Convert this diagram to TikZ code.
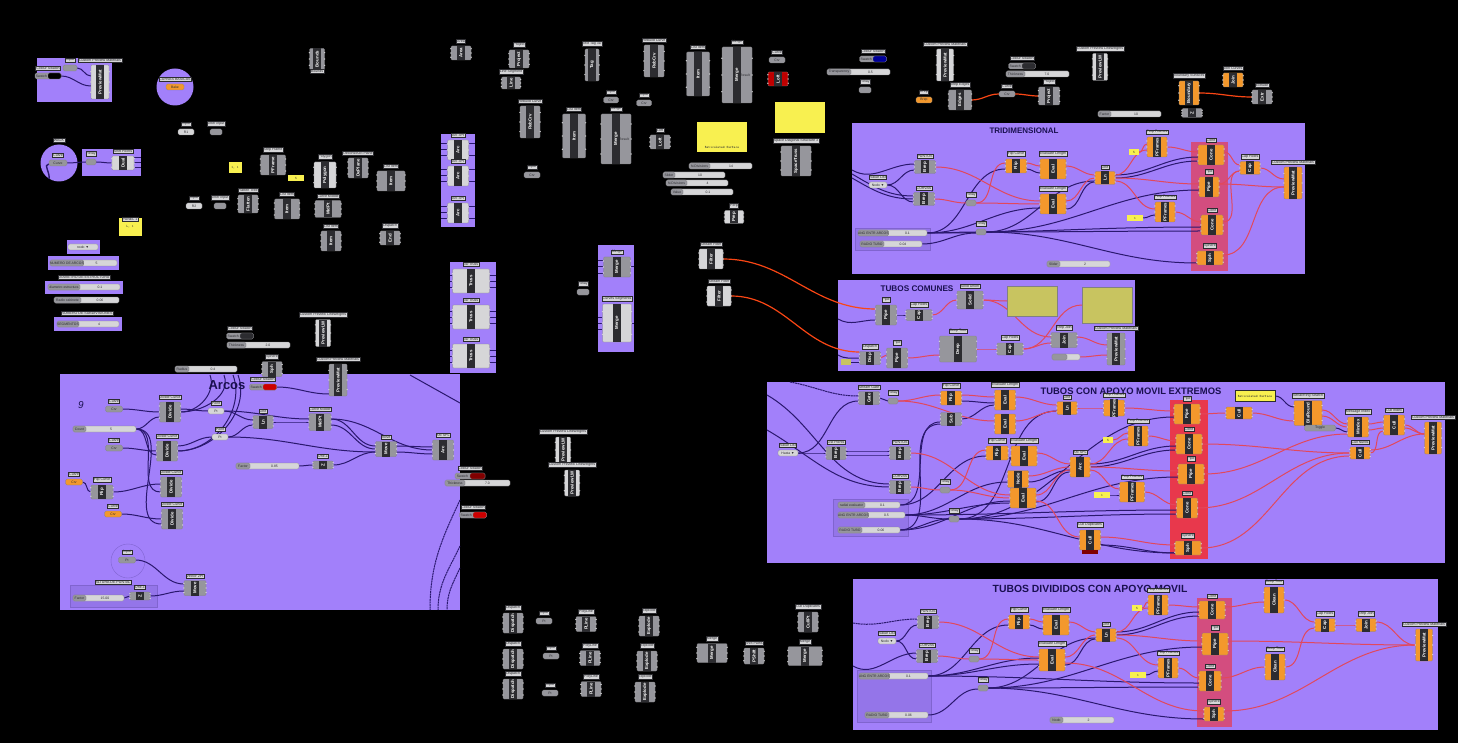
\documentclass[tikz,border=0pt]{standalone}
\usepackage{fontspec}
\setmainfont{Liberation Sans}
\pgfdeclarelayer{back}
\pgfdeclarelayer{wire}
\pgfsetlayers{back,wire,main}
\definecolor{ghpurple}{RGB}{162,128,250}
\definecolor{ghgray}{RGB}{150,150,156}
\definecolor{ghdark}{RGB}{44,44,48}
\definecolor{ghlight}{RGB}{214,214,216}
\definecolor{ghorange}{RGB}{243,152,44}
\definecolor{ghyellow}{RGB}{248,240,80}
\definecolor{gholive}{RGB}{200,196,96}
\definecolor{ghred}{RGB}{232,56,76}
\definecolor{wirered}{RGB}{226,72,92}
\definecolor{wirepurple}{RGB}{42,24,110}
\definecolor{wirehot}{RGB}{250,70,20}
\definecolor{ghnavy}{RGB}{26,16,80}
\tikzset{
  compbox/.style={rectangle,rounded corners=1pt,draw=ghdark!60,line width=.3pt,fill=ghgray,inner sep=0pt},
  orangec/.style={fill=ghorange},
  lightc/.style={fill=ghlight},
  redc/.style={fill=red!75!black},
  stripbox/.style={rectangle,fill=ghdark,inner sep=0pt,minimum height=8pt,text=white,font=\fontsize{4.4}{5}\selectfont\bfseries},
  tagbox/.style={rectangle,fill=ghlight,draw=ghdark,line width=.2pt,inner sep=.7pt,text=ghdark,font=\fontsize{3.6}{4}\selectfont},
  portdot/.style={fill=ghlight},
  pillbox/.style={rectangle,rounded corners=1.5pt,draw=ghdark!60,line width=.3pt,fill=ghlight,inner sep=0pt,minimum height=6pt,text=ghdark,font=\fontsize{3.4}{4}\selectfont},
  darkp/.style={fill=ghgray},
  orangep/.style={fill=ghorange},
  notebox/.style={rectangle,fill=ghyellow,inner sep=0pt,text=ghdark,font=\fontsize{3.4}{4}\selectfont\ttfamily},
  headbox/.style={text=ghnavy,inner sep=0pt,font=\fontsize{#1}{11}\selectfont\bfseries},
  faintbox/.style={fill=ghnavy!10!ghpurple,draw=ghnavy!25!ghpurple,line width=.4pt},
  wp/.style={wirepurple,line width=1pt},
  wr/.style={wirered,line width=1pt},
  wo/.style={wirehot,line width=1.2pt},
  wd/.style={wirepurple,line width=1pt,dash pattern=on 2pt off .6pt}
}
\newcommand{\ghcomp}[8][]{%
  \node[compbox,#1,minimum width=#5pt,minimum height=#6pt] (#2) at (#3,#4) {};
  \node[stripbox,rotate=90,minimum width=#6pt] (#2s) at (#2.center) {#7};
  \foreach \s in {-0.3,0,0.3}{
    \fill[portdot] ([yshift=\s*#6 pt]#2.west) circle (.7pt);
    \fill[portdot] ([yshift=\s*#6 pt]#2.east) circle (.7pt);}
  \if\relax\detokenize{#8}\relax\else
    \node[tagbox,anchor=south,yshift=2.5pt] (#2t) at (#2.north) {#8};\fi}
\newcommand{\ghparam}[7][]{%
  \node[pillbox,#1,minimum width=#5pt] (#2) at (#3,#4) {#6};
  \if\relax\detokenize{#7}\relax\else
    \node[tagbox,anchor=south,yshift=2.5pt] (#2t) at (#2.north) {#7};\fi}
\newcommand{\ghswatch}[6]{%
  \node[pillbox,darkp,minimum width=#4pt] (#1) at (#2,#3) {};
  \node[pillbox,fill=#5,minimum width=#4pt/2] (#1c) at ([xshift=#4pt/4]#1.center) {};
  \node[inner sep=0pt,text=ghdark,font=\fontsize{3.4}{4}\selectfont] (#1l) at ([xshift=-#4pt/4]#1.center) {Swatch};
  \node[tagbox,anchor=south,yshift=2.5pt] (#1t) at (#1.north) {#6};}
\newcommand{\ghslider}[7]{%
  \node[pillbox,minimum width={(#3-#2)*1pt}] (#1) at ({(#2+#3)/2},#4) {};
  \node[pillbox,darkp,anchor=west,minimum width=#5pt] (#1l) at (#1.west) {#6};
  \node[text=ghdark,inner sep=0pt,font=\fontsize{3.4}{4}\selectfont] (#1v) at ([xshift=#5pt/2]#1.center) {#7};}
\begin{document}
\begin{tikzpicture}[x=1pt,y=-1pt]
  \useasboundingbox (0,0) rectangle (1458,743);
  \begin{pgfonlayer}{back}
    \fill[black] (0,0) rectangle (1458,743);
    \foreach \xa/\ya/\xb/\yb in {37/58/112/102,82/149/141/176,67/240/100/254,48/256/119/270,45/281/123/294,54/317/122/331,
      441/134/475/227,450/262/496/373,598/245/634/352,60/374/460/610,852/123/1305/274,838/280/1135/371,767/382/1445/563,853/579/1438/730}
      \fill[ghpurple] (\xa,\ya) rectangle (\xb,\yb);
    \foreach \cx/\cy in {175/87,59/163}
      \fill[ghpurple] (\cx,\cy) circle (18.5);
    \foreach \xa/\ya/\xb/\yb in {1191/142/1228/271,1197/598/1232/727}
      \fill[ghred,opacity=.7] (\xa,\ya) rectangle (\xb,\yb);
    \fill[ghred] (1170,400) rectangle (1208,559);
    \foreach \xa/\ya/\xb/\yb in {855/228/930/250,833/499/908/536,857/670/931/722,70/585/157/607}
      \filldraw[faintbox] (\xa,\ya) rectangle (\xb,\yb);
    \draw[ghnavy!25!ghpurple,line width=.4pt] (128,561) circle (17);
  \end{pgfonlayer}

  \ghswatch{hsw}{48}{76}{26}{black}{Colour Swatch}
  \ghcomp[lightc]{hpm}{100}{82}{18}{34}{PreviewMat}{Custom Preview Materials}
  \ghparam[darkp]{hin}{70}{68}{14}{}{Input}
  \ghparam[orangep]{htog}{175}{87}{18}{Bake}{CURVAS BASICAS}
  \ghparam[darkp]{wcur}{58}{163}{18}{Curve}{Curve}
  \node[tagbox] (wwalk) at (59,140) {WALK};
  \ghparam[darkp]{wrel}{91}{162}{10}{}{Relay}
  \ghcomp[lightc]{wdua}{123}{163}{22}{14}{Dual}{Shift Points}
  \node[notebox,minimum width=23pt,minimum height=18pt] (npan) at (130,227) {L, 1};
  \node[tagbox] (npant) at (130,219) {PANEL 1};
  \ghparam{vnod}{83}{247}{30}{nodo ▼}{}
  \ghslider{snum}{50}{117}{263}{26}{NUMERO DE ARCOS}{5}
  \node[tagbox] (sdiat) at (84,277) {DIAMETRO DE ESTRUCTURA};
  \ghslider{sdia}{48}{120}{287}{32}{diametro estructura}{0.1}
  \ghslider{srad}{54}{119}{300}{27}{Radio cabinete}{0.06}
  \node[tagbox] (ssubt) at (87,313) {NUMERO DE SUBDIVISIONES};
  \ghslider{ssub}{57}{119}{324}{22}{SEGMENTOS}{4}

  \ghcomp{cbou}{317}{59}{15}{21}{Bounds}{}
  \node[tagbox] (cbout) at (317,71) {Bounds};
  \ghparam{cin1}{186}{132}{16}{R1}{Input}
  \ghparam[darkp]{cin2}{216}{132}{12}{}{Jitter input}
  \ghparam{cin3}{194}{206}{16}{R2}{Input}
  \ghparam[darkp]{cin4}{220}{206}{12}{}{Jitter input}
  \node[notebox,minimum width=13pt,minimum height=11pt] (cyel) at (235,168) {1, 1};
  \ghcomp{cfra}{273}{165}{25}{20}{PFrame}{Step Frame}
  \node[notebox,minimum width=16pt,minimum height=6pt] (cye2) at (296,178) {5};
  \ghcomp{cfla}{248}{204}{20}{18}{Flatten}{Flatten Tree}
  \ghcomp{clis}{287}{209}{25}{20}{Item}{List Item}
  \ghcomp[lightc]{cpol}{325}{175}{22}{26}{Polygon}{Polygon}
  \ghcomp{cmid}{328}{209}{26}{17}{MidPt}{Curve Middle}
  \ghcomp{cdec}{358}{168}{20}{20}{DePlane}{Deconstruct Plane}
  \ghcomp{cli2}{391}{181}{28}{20}{Item}{List Item}
  \ghcomp{cli3}{331}{241}{20}{20}{Item}{List Item}
  \ghcomp{cend}{390}{238}{20}{14}{End}{Dispatch}

  \ghswatch{lsw}{240}{336}{27}{ghdark}{Colour Swatch}
  \ghslider{lthi}{227}{290}{345}{19}{Thickness}{2.0}
  \ghcomp[lightc]{lpm}{323}{333}{15}{27}{PreviewLW}{Custom Preview Lineweights}
  \ghslider{lrad}{175}{237}{369}{14}{Radius}{0.4}
  \ghcomp{lsph}{272}{369}{20}{15}{Sph}{Sphere}
  \ghcomp{apm}{338}{380}{18}{32}{PreviewMat}{Custom Preview Materials}

  \ghcomp{ita}{461}{53}{20}{14}{Area}{Area}
  \ghcomp{ipr}{519}{59}{20}{18}{Project}{Project}
  \ghcomp{ili}{511}{83}{19}{12}{Line}{Line Segment}
  \ghcomp{irb1}{530}{122}{20}{32}{RebCrv}{Rebuild Curve}
  \ghparam[darkp]{iin}{532}{175}{16}{Crv}{Input}
  \ghcomp{itag}{592}{65}{14}{32}{Tag}{Text Tag 3D}
  \ghcomp{irb2}{654}{61}{20}{32}{RebCrv}{Rebuild Curve}
  \ghparam[darkp]{iin2}{611}{100}{15}{Crv}{Input}
  \ghparam[darkp]{iin3}{644}{103}{15}{Crv}{Input}
  \ghcomp{ili1}{574}{136}{23}{44}{Item}{List Item}
  \ghcomp{ime1}{616}{139}{30}{50}{Merge}{Merge}
  \ghcomp{ili2}{698}{74}{23}{44}{Item}{List Item}
  \ghcomp{ime2}{737}{75}{30}{56}{Merge}{Merge}
  \node[text=ghdark,inner sep=0pt,font=\fontsize{3.4}{4}\selectfont] (ime1r) at (624,139) {Result};
  \node[text=ghdark,inner sep=0pt,font=\fontsize{3.4}{4}\selectfont] (ime2r) at (745,75) {Result};
  \ghparam[darkp]{icur}{777}{60}{16}{Crv}{Curve}
  \ghcomp[redc]{ilof}{778}{79}{20}{14}{Loft}{}
  \ghcomp{ilin}{660}{142}{20}{14}{Loft}{Loft}
  \node[notebox,minimum width=50pt,minimum height=30pt,text height=24pt,align=left] (ino1) at (722,137) {Reticulated Surface};
  \node[notebox,minimum width=50pt,minimum height=31pt] (ino2) at (800,118) {};
  \ghslider{is1}{689}{752}{166}{21}{N.Divisions}{14}
  \ghslider{is2}{663}{725}{175}{12}{Slider}{10}
  \ghslider{is3}{666}{728}{183}{21}{N.Divisions}{4}
  \ghslider{is4}{671}{733}{192}{12}{Value}{0.1}
  \ghcomp{ispa}{796}{161}{30}{30}{SpaceTruss}{Space Diagonal Structure 3}
  \ghcomp[lightc]{ipre}{734}{217}{19}{13}{Prep}{Perp}
  \ghcomp[lightc]{ist1}{711}{259}{24}{20}{Filter}{Stream Filter}
  \ghcomp[lightc]{ist2}{719}{296}{24}{20}{Filter}{Stream Filter}

  \foreach \i/\cy in {1/150,2/176,3/213}
    {\ghcomp[lightc]{iarc\i}{458}{\cy}{21}{20}{Arc}{Arc 3Pt}
     \coordinate (ial\i) at (441,\cy);
     \coordinate (iar\i) at (475,\cy);}
  \foreach \i/\cy in {1/281,2/317,3/356}
    {\ghcomp[lightc]{itru\i}{471}{\cy}{37}{24}{Truss}{3D Truss}
     \coordinate (itl\i) at (450,\cy);
     \coordinate (itr\i) at (496,\cy);}
  \ghcomp{imer}{617}{267}{27}{20}{Merge}{Merge}
  \ghcomp[lightc]{imeb}{617}{323}{29}{38}{Merge}{Curves Segments}
  \coordinate (iml1) at (598,267);
  \coordinate (iml2) at (598,323);
  \coordinate (imr1) at (634,267);
  \coordinate (imr2) at (634,323);
  \ghparam[darkp]{irel}{583}{292}{12}{}{Relay}

  \node[anchor=center,inner sep=0pt,text=ghnavy,font=\fontsize{13}{14}\selectfont\bfseries] (aarcs) at (227,385) {Arcos};
  \node[inner sep=0pt,text=ghnavy,font=\fontsize{10}{11}\selectfont\itshape] (anin) at (81,405) {9};
  \ghparam[darkp]{acr1}{114}{409}{17}{Crv}{Curve}
  \ghcomp{adv1}{170}{412}{21}{20}{Divide}{Divide Curve}
  \ghslider{acnt}{73}{136}{429}{13}{Count}{5}
  \ghparam[darkp]{acr2}{114}{448}{17}{Crv}{Curve}
  \ghcomp{adv2}{167}{451}{21}{20}{Divide}{Divide Curve}
  \ghparam[orangep]{aor1}{74}{482}{17}{Crv}{Curve}
  \ghcomp{afli}{102}{492}{22}{14}{Flip}{Flip Curve}
  \ghcomp{adv3}{171}{487}{21}{20}{Divide}{Divide Curve}
  \ghparam[orangep]{aor2}{113}{514}{17}{Crv}{Curve}
  \ghcomp{adv4}{172}{519}{21}{20}{Divide}{Divide Curve}
  \ghparam{ain1}{216}{411}{16}{Pt}{Point}
  \ghparam{ain2}{220}{437}{16}{Pt}{Point}
  \ghcomp{alin}{263}{422}{20}{13}{Ln}{Line}
  \ghcomp{amid}{320}{422}{22}{17}{MidPt}{Curve Middle}
  \ghcomp{amer}{386}{449}{21}{15}{Move}{Move}
  \ghcomp{aarc}{443}{450}{21}{20}{Arc}{Arc SPL}
  \ghslider{afac}{236}{299}{466}{14}{Factor}{0.85}
  \ghcomp{auni}{323}{465}{20}{8}{Z}{Unit Z}
  \ghparam[darkp]{ainp}{127}{560}{17}{Pt}{Input}
  \ghslider{afa2}{73}{124}{598}{13}{Factor}{15.00}
  \node[tagbox] (aalt) at (113,582) {ALTURA DE PUNTAL};
  \ghcomp{aun2}{140}{596}{20}{8}{Z}{Unit Z}
  \ghcomp{avec}{195}{588}{22}{15}{Move}{Vector 2Pt}
  \ghswatch{asw}{263}{387}{27}{red!80!black}{Colour Swatch}
  \ghswatch{asw2}{470}{476}{30}{red!50!black}{Colour Swatch}
  \ghslider{ath2}{445}{510}{483}{20}{Thickness}{7.0}
  \ghswatch{asw3}{473}{515}{27}{red!80!black}{Colour Swatch}
  \ghcomp[lightc]{mpm1}{563}{450}{15}{26}{PreviewLW}{Custom Preview Lineweights}
  \ghcomp[lightc]{mpm2}{572}{483}{15}{26}{PreviewLW}{Custom Preview Lineweights}

  \foreach \i/\cy/\ttl in {1/623/Dispatch,2/659/Dispatch,3/689/Dispatch}
    {\ghcomp{bdi\i}{513}{\cy}{20}{20}{Dispatch}{\ttl}}
  \foreach \i/\cx/\cy in {1/544/621,2/551/656,3/550/693}
    {\ghparam[darkp]{bin\i}{\cx}{\cy}{16}{Pt}{Input}}
  \foreach \i/\cx/\cy in {1/586/624,2/590/658,3/591/689}
    {\ghcomp{bpl\i}{\cx}{\cy}{20}{15}{PLine}{PolyLine}}
  \foreach \i/\cx/\cy in {1/649/626,2/647/661,3/645/692}
    {\ghcomp{bex\i}{\cx}{\cy}{20}{20}{Explode}{Explode}}
  \ghcomp{bme1}{712}{653}{30}{19}{Merge}{Merge}
  \ghcomp{bshi}{754}{656}{20}{16}{PShift}{Shift Paths}
  \ghcomp{bcul}{808}{622}{20}{20}{CullPt}{Cull Duplicates}
  \ghcomp{bme2}{805}{656}{34}{19}{Merge}{Merge}

  \ghswatch{fswa}{873}{59}{27}{blue!60!black}{Colour Swatch}
  \ghslider{ftra}{827}{890}{72}{24}{Transparency}{0.5}
  \ghparam[darkp]{frel}{865}{90}{12}{}{Relay}
  \ghcomp[lightc]{fpm}{945}{65}{17}{32}{PreviewMat}{Custom Preview Materials}
  \ghparam[orangep]{fbak}{924}{100}{16}{Brep}{Brep}
  \ghcomp{fedg}{960}{100}{23}{20}{Edges}{Brep Edges}
  \ghparam[darkp]{fcur}{1007}{94}{16}{Crv}{Curve}
  \ghcomp{fpro}{1049}{96}{21}{18}{Project}{Project}
  \ghswatch{fsw2}{1022}{66}{27}{ghdark}{Colour Swatch}
  \ghslider{fth2}{1006}{1069}{74}{19}{Thickness}{7.0}
  \ghcomp[lightc]{fpl}{1100}{67}{15}{27}{PreviewLW}{Custom Preview Lineweights}
  \ghcomp[orangec]{fbou}{1189}{93}{20}{24}{Boundary}{Boundary Surfaces}
  \ghcomp[orangec]{fjoi}{1233}{80}{20}{14}{Join}{Join Curves}
  \ghcomp{fext}{1262}{97}{20}{14}{Extr}{Extrude}
  \ghcomp{fzz}{1192}{113}{20}{9}{Z}{}
  \ghslider{fsld}{1098}{1161}{114}{13}{Factor}{10}

  \node[headbox=8] (thead) at (1024,131) {TRIDIMENSIONAL};
  \ghcomp{tpun}{925}{167}{21}{13}{Brep}{PUNTOS}
  \ghcomp{tcur}{924}{199}{21}{13}{Brep}{CURVAS}
  \ghparam{tval}{878}{185}{18}{Nodo ▼}{Value List}
  \ghparam[darkp]{trel}{971}{203}{10}{}{Relay}
  \ghcomp[orangec]{tfli}{1016}{166}{21}{14}{Flip}{Flip Curve}
  \ghcomp[orangec]{tev1}{1053}{169}{26}{20}{Eval}{Evaluate Length}
  \ghcomp[orangec]{tev2}{1053}{204}{26}{20}{Eval}{Evaluate Length}
  \ghcomp[orangec]{tlin}{1105}{178}{20}{13}{Ln}{Line}
  \ghcomp[orangec]{tpe1}{1157}{147}{20}{20}{PFrames}{Perp Frames}
  \node[notebox,minimum width=10pt,minimum height=6pt] (tye1) at (1134,152) {5};
  \ghcomp[orangec]{tcn1}{1211}{155}{26}{20}{Cone}{Cone}
  \ghcomp[orangec]{tpip}{1209}{187}{20}{20}{Pipe}{Pipe}
  \ghcomp[orangec]{tcn2}{1212}{225}{22}{20}{Cone}{Cone}
  \ghcomp[orangec]{tsph}{1210}{258}{26}{14}{Sph}{Sphere}
  \ghcomp[orangec]{tpe2}{1165}{212}{20}{20}{PFrames}{Perp Frames}
  \node[notebox,minimum width=16pt,minimum height=6pt] (tye2) at (1135,218) {1};
  \ghcomp[orangec]{tcap}{1250}{168}{20}{13}{Cap}{Cap Holes}
  \ghcomp[orangec]{tpm}{1293}{183}{18}{32}{PreviewMat}{Custom Preview Materials}
  \ghparam[darkp]{tre2}{981}{232}{10}{}{Relay}
  \ghslider{tang}{858}{927}{233}{30}{ANG ENTR ARCOS}{0.1}
  \ghslider{trad}{860}{922}{244}{24}{RADIO TUBO}{0.04}
  \ghslider{tsld}{1047}{1110}{264}{13}{Slider}{2}
  \coordinate (tin1) at (852,170);
  \coordinate (tin2) at (852,174);
  \coordinate (tin3) at (852,178);

  \node[headbox=8.2] (chead) at (917,289) {TUBOS COMUNES};
  \ghcomp{cpi1}{886}{315}{21}{20}{Pipe}{Pipe}
  \ghcomp{cca1}{919}{315}{26}{11}{Cap}{Cap Holes}
  \ghcomp{cste}{970}{300}{26}{18}{Solid}{Solid Union}
  \node[notebox,fill=gholive,draw=ghdark!60,line width=.2pt,minimum width=50pt,minimum height=30pt] (col1) at (1032,301) {};
  \node[notebox,fill=gholive,draw=ghdark!60,line width=.2pt,minimum width=50pt,minimum height=36pt] (col2) at (1107,305) {};
  \ghcomp{cdis}{870}{358}{21}{13}{Disp}{Dispatch}
  \ghcomp{cpi2}{897}{358}{21}{20}{Pipe}{Pipe}
  \ghcomp{cdee}{958}{349}{37}{26}{Deep}{Deep Tree}
  \ghcomp{cca2}{1010}{349}{26}{12}{Cap}{Cap Holes}
  \ghcomp{cbre}{1064}{340}{26}{15}{Join}{Brep Join}
  \ghslider{csld}{1052}{1080}{357}{15}{}{}
  \ghcomp{cpm}{1116}{349}{18}{32}{PreviewMat}{Custom Preview Materials}
  \node[notebox,fill=gholive,minimum width=10pt,minimum height=6pt] (cye) at (846,362) {};
  \coordinate (cin2) at (838,319);
  \coordinate (cin3) at (838,355);

  \node[headbox=9.4] (ehead) at (1131,391) {TUBOS CON APOYO MOVIL EXTREMOS};
  \ghcomp{egat}{869}{398}{21}{13}{Gate}{Stream Gate}
  \ghparam[darkp]{erel}{893}{401}{10}{}{Relay}
  \ghcomp[orangec]{efl1}{951}{398}{21}{14}{Flip}{Flip Curve}
  \ghcomp{esub}{951}{419}{21}{13}{Sub}{}
  \ghcomp[orangec]{eev1}{1005}{400}{21}{20}{Eval}{Evaluate Length}
  \ghcomp[orangec]{eev2}{1005}{424}{21}{20}{Eval}{}
  \ghcomp[orangec]{eli1}{1067}{408}{20}{13}{Ln}{Line}
  \ghcomp[orangec]{epe0}{1114}{408}{21}{16}{PFrames}{Perp Frames}
  \ghcomp{elis}{836}{453}{20}{13}{Brep}{List Points}
  \ghparam{eval}{788}{453}{20}{Hasta ▼}{Value List}
  \ghcomp{epun}{900}{453}{21}{13}{Brep}{PUNTOS}
  \ghcomp{ecur}{900}{487}{21}{13}{Brep}{CURVAS}
  \ghparam[darkp]{ere1}{945}{490}{10}{}{Relay}
  \ghcomp[orangec]{efl2}{997}{453}{22}{14}{Flip}{Flip Curve}
  \ghcomp[orangec]{eev3}{1024}{456}{26}{20}{Eval}{Evaluate Length}
  \ghcomp[orangec]{enod}{1018}{479}{21}{17}{Node}{}
  \ghcomp[orangec]{eev4}{1023}{498}{26}{20}{Eval}{}
  \ghcomp[orangec]{earc}{1080}{467}{20}{20}{Arc}{Arc SPL}
  \ghcomp[orangec]{epe1}{1138}{436}{20}{20}{PFrames}{Perp Frames}
  \node[notebox,minimum width=10pt,minimum height=6pt] (eye1) at (1108,440) {5};
  \ghcomp[orangec]{epe2}{1132}{492}{25}{20}{PFrames}{Perp Frames}
  \node[notebox,minimum width=16pt,minimum height=6pt] (eye2) at (1102,495) {1};
  \ghcomp[orangec]{ecul}{1090}{540}{21}{20}{Cull}{Cull Duplicates}
  \node[rectangle,fill=red!50!black,inner sep=0pt,minimum width=16pt,minimum height=4pt] (ecub) at (1090,552) {};
  \ghparam[darkp]{ere2}{954}{519}{10}{}{Relay}
  \ghslider{esl1}{838}{900}{505}{27}{radial evaluator}{0.1}
  \ghslider{esl2}{838}{905}{515}{30}{ANG ENTR ARCOS}{0.5}
  \ghslider{esl3}{838}{900}{530}{24}{RADIO TUBO}{0.06}
  \ghcomp[orangec]{epi1}{1187}{414}{26}{20}{Pipe}{Pipe}
  \ghcomp[orangec]{ecn1}{1189}{444}{26}{20}{Cone}{Cone}
  \ghcomp[orangec]{epi2}{1191}{474}{26}{20}{Pipe}{Pipe}
  \ghcomp[orangec]{ecn2}{1187}{508}{21}{20}{Cone}{Cone}
  \ghcomp[orangec]{esph}{1188}{548}{26}{14}{Sph}{Sphere}
  \ghcomp[orangec]{ecu1}{1239}{413}{26}{12}{Cull}{}
  \node[notebox,draw=ghdark,line width=.2pt,minimum width=40pt,minimum height=11pt] (eno) at (1255,396) {Reticulated Surface};
  \ghcomp[orangec]{eblo}{1308}{413}{28}{25}{BlaRound}{Serial/Ring Search}
  \node[pillbox,darkp,minimum width=31pt] (etog) at (1320,428) {Toggle};
  \ghcomp[orangec]{emes}{1358}{427}{21}{20}{Mindex}{Message Index}
  \ghcomp[orangec]{ecu2}{1394}{425}{21}{20}{Cull}{Cull Index}
  \ghcomp[orangec]{ecu3}{1360}{453}{20}{12}{Cull}{Cull Nurbs}
  \ghcomp[orangec]{epm}{1433}{438}{17}{32}{PreviewMat}{Custom Preview Materials}
  \coordinate (ein1) at (790,382);
  \coordinate (ein2) at (767,395);
  \coordinate (ein3) at (767,430);

  \node[headbox=10.4] (dhead) at (1090,589) {TUBOS DIVIDIDOS CON APOYO MOVIL};
  \ghcomp{dpun}{928}{622}{21}{13}{Brep}{PUNTOS}
  \ghcomp{dcur}{927}{656}{21}{13}{Brep}{CURVAS}
  \ghparam{dval}{887}{641}{18}{Nodo ▼}{Value List}
  \ghparam[darkp]{drel}{974}{659}{10}{}{Relay}
  \ghcomp[orangec]{dfli}{1019}{622}{21}{14}{Flip}{Flip Curve}
  \ghcomp[orangec]{dev1}{1056}{625}{26}{20}{Eval}{Evaluate Length}
  \ghcomp[orangec]{dev2}{1052}{660}{26}{22}{Eval}{Evaluate Length}
  \ghcomp[orangec]{dlin}{1106}{635}{20}{13}{Ln}{Line}
  \ghcomp[orangec]{dpe1}{1158}{605}{20}{20}{PFrames}{Perp Frames}
  \node[notebox,minimum width=10pt,minimum height=6pt] (dye1) at (1137,608) {5};
  \ghcomp[orangec]{dcn1}{1212}{610}{26}{18}{Cone}{Cone}
  \ghcomp[orangec]{dpip}{1215}{644}{26}{22}{Pipe}{Pipe}
  \ghcomp[orangec]{dcn2}{1210}{681}{22}{20}{Cone}{Cone}
  \ghcomp[orangec]{dsph}{1214}{714}{20}{14}{Sph}{Sphere}
  \ghcomp[orangec]{dpe2}{1168}{668}{20}{20}{PFrames}{Perp Frames}
  \node[notebox,minimum width=16pt,minimum height=6pt] (dye2) at (1138,675) {1};
  \ghparam[darkp]{dre2}{983}{688}{10}{}{Relay}
  \ghcomp[orangec]{ddt1}{1274}{600}{20}{26}{Clean}{Deep Tree}
  \ghcomp[orangec]{ddt2}{1275}{667}{20}{26}{Clean}{Deep Tree}
  \ghcomp[orangec]{dcap}{1325}{625}{20}{13}{Cap}{Cap Holes}
  \ghcomp[orangec]{djoi}{1366}{625}{20}{13}{Join}{Brep Join}
  \ghcomp[orangec]{dpm}{1424}{645}{17}{32}{PreviewMat}{Custom Preview Materials}
  \ghslider{dang}{859}{928}{676}{30}{ANG ENTR ARCOS}{0.1}
  \ghslider{drad}{865}{928}{715}{24}{RADIO TUBO}{0.06}
  \ghslider{dsld}{1050}{1114}{720}{13}{Nodo}{2}
  \coordinate (din1) at (853,623);
  \coordinate (din2) at (853,666);

  \coordinate (wbot) at (49,179);
  \coordinate (wed1) at (141,158);
  \coordinate (wed2) at (141,163);
  \coordinate (wed3) at (141,168);
  \coordinate (at1) at (224,375);
  \coordinate (at2) at (233,375);
  \coordinate (at3) at (238,375);
  \coordinate (at4) at (210,375);
  \coordinate (ab1) at (430,610);
  \coordinate (ab2) at (438,610);
  \coordinate (ab3) at (447,610);
  \coordinate (ar1) at (460,500);
  \coordinate (ar2) at (460,546);
  \coordinate (ar3) at (460,568);
  \coordinate (atr1) at (410,375);
  \coordinate (atr2) at (460,403);

  \begin{pgfonlayer}{wire}
    \foreach \a/\b/\sa/\sb in {
      wcur/wrel/0/0,wrel/wdua/0/0,hin/hpm/0/6,hsw/hpm/0/-4,
      acr1/adv1/0/0,acnt/adv1/0/-5,acnt/adv2/0/-4,acnt/adv3/0/-5,acnt/adv4/0/-5,acr2/adv2/0/0,aor1/afli/0/0,afli/adv3/0/3,aor2/adv4/0/0,
      adv1/ain1/3/0,adv2/ain2/5/0,ain1/alin/0/2,ain2/alin/0/-3,ain1/amid/0/3,alin/amid/0/0,amid/amer/3/3,amid/amer/-3/0,ain2/amer/0/-3,
      afac/auni/0/0,auni/amer/0/-3,amer/aarc/3/3,amer/aarc/-3/-4,amid/aarc/3/0,ainp/avec/0/4,afa2/aun2/0/0,aun2/avec/0/-3,asw/apm/0/-14,
      tval/tpun/0/-3,tval/tcur/0/-3,tfli/tev1/-3/-4,tev2/tlin/-5/-4,tre2/tlin/0/-3,tre2/tpip/0/-3,tre2/tcn2/0/-6,tre2/tsph/0/-5,
      tlin/tcn1/3/-2,tlin/tcn1/0/-6,tang/tfli/0/-3,tang/tev2/0/-4,tang/tre2/0/0,tang/tcn2/0/-2,trad/tre2/0/-1,tye2/tpe2/0/-3,
      cpi1/cca1/0/0,
      egat/erel/0/0,eval/egat/0/-3,eval/elis/0/0,elis/epun/2/2,elis/epun/-2/-2,efl1/eev1/-3/-3,esub/eev1/0/-5,esl1/esub/0/-3,esl3/esub/0/-5,
      efl2/eev3/-4/-3,enod/earc/-3/-3,eev4/earc/-4/-5,ere2/eli1/0/-3,esl2/ere2/0/0,esl3/ere2/0/0,esl2/enod/0/-3,esl2/eev4/0/-5,esl3/eev4/0/-3,
      esl1/efl2/0/-3,ere2/epi2/0/-3,ere2/ecn2/0/-6,ere2/esph/0/-5,esl2/ecn2/0/-2,earc/ecn1/3/-2,earc/ecn1/0/-6,
      ere2/epi1/0/-3,ecul/esph/-5/-5,eno/eblo/0/6,etog/emes/0/-5,eye2/epe2/0/-3,
      dval/dpun/0/-3,dval/dcur/0/-3,dfli/dev1/-3/-4,dev2/dlin/-5/-4,dre2/dlin/0/-3,dre2/dpip/0/-3,dre2/dcn2/0/-6,dre2/dsph/0/-5,
      dlin/dcn1/3/-2,dlin/dcn1/0/-6,dang/dfli/0/-3,dang/dev2/0/-4,dang/dcn2/0/-2,dang/dev2/0/2,drad/dre2/0/-1,dye2/dpe2/0/-3}
      \draw[wp] ([yshift=\sa pt]\a.east) to[out=0,in=180] ([yshift=\sb pt]\b.west);
    \foreach \a/\b/\sa/\sb in {
      tcur/trel/0/0,trel/tfli/0/3,trel/tev2/0/0,tpun/tev2/0/3,tfli/tev1/3/3,tev1/tlin/3/3,tev2/tlin/3/0,tlin/tpe1/3/-3,tlin/tpip/0/3,tlin/tpe2/-3/3,
      tye1/tpe1/0/3,tpe1/tcn1/0/3,tpe2/tcn2/0/3,tcn1/tcap/3/3,tpip/tcap/3/-3,tcn2/tcap/3/-3,tpip/tpm/3/-4,tsph/tpm/3/-4,tcap/tpm/0/4,
      ecur/ere1/0/0,ere1/efl2/0/3,ere1/eev4/0/0,epun/eev4/0/3,erel/efl1/0/3,erel/eev2/0/3,efl1/eev1/3/3,eev1/eli1/3/3,eev2/eli1/3/-3,eli1/epe0/0/0,
      eev3/earc/3/3,enod/earc/3/0,eev4/earc/3/-3,earc/epe1/3/-3,earc/epi2/0/3,earc/epe2/-3/3,eye1/epe1/0/3,epe0/epi1/0/3,epe1/ecn1/0/3,epe2/ecn2/0/3,
      eev4/ecul/-3/3,ecul/esph/3/3,epi1/ecu1/0/0,ecu1/eblo/0/-8,eblo/emes/3/3,eblo/emes/-3/0,ecn1/ecu3/0/0,epi2/emes/0/-7,ecn2/ecu3/0/0,esph/ecu3/0/-3,
      emes/ecu2/3/3,emes/ecu2/-3/-3,ecu3/ecu2/0/-6,ecu2/epm/0/4,ecu3/epm/3/4,ecu2/epm/-3/4,
      dcur/drel/0/0,drel/dfli/0/3,drel/dev2/0/0,dpun/dev2/0/3,dfli/dev1/3/3,dev1/dlin/3/3,dev2/dlin/3/0,dlin/dpe1/3/-3,dlin/dpip/0/3,dlin/dpe2/-3/3,
      dye1/dpe1/0/3,dpe1/dcn1/0/3,dpe2/dcn2/0/3,dev2/dsph/-3/3,dcn1/ddt1/3/-2,dcn2/ddt2/3/0,ddt1/dcap/0/3,ddt2/dcap/0/-3,dcap/djoi/0/0,dpip/dpm/3/0,dsph/dpm/3/0,djoi/dpm/3/0,
      cca1/cste/0/0,cste/col1/0/0,cste/cbre/0/3,cdis/cpi2/0/3,cpi2/cdee/0/-6,cdee/cca2/0/0,cca2/col2/0/0,cca2/cbre/0/-3,cbre/cpm/3/4,csld/cpm/0/-6}
      \draw[wr] ([yshift=\sa pt]\a.east) to[out=0,in=180] ([yshift=\sb pt]\b.west);
    \foreach \a/\b in {ist1/cpi1,ist2/cdis}
      \draw[wo] (\a.east) to[out=0,in=180] ([yshift=6pt]\b.west);
    \foreach \a/\b in {fedg/fcur,fcur/fpro,fbou/fext}
      \draw[wo] (\a.east) to[out=0,in=180] (\b.west);
    \foreach \a/\b/\sb in {tin1/tpun/3,tin2/tcur/3,tin3/tcur/0,cin2/cpi1/-5,cin3/cdis/0,ein2/ecur/3,ein3/ecur/0,din2/dcur/3}
      \draw[wp] (\a) to[out=-30,in=180] ([yshift=\sb pt]\b.west);
    \draw[wp] (cye.east) to[out=0,in=180] ([yshift=-4pt]cdis.west);
    \foreach \a/\b/\sb in {ein1/egat/2,din1/dpun/3}
      \draw[wd] (\a) to[out=-10,in=180] ([yshift=\sb pt]\b.west);
    \foreach \a/\b in {adv1/at1,adv2/at2,adv2/at3,adv1/at4}
      \draw[wp] (\a.east) to[out=0,in=-70] (\b);
    \foreach \a/\b in {ar1/ab1,ar2/ab2,ar3/ab3}
      \draw[wd] (\a) to[out=-115,in=90] (\b);
    \draw[wp] (atr1) -- (atr2);
    \draw[wp,line width=1.4pt] (wbot) to[out=75,in=180] ([yshift=-1pt]wcur.west);
    \foreach \b/\sb in {wed1/5,wed2/0,wed3/-5}
      \draw[wp] ([yshift=\sb pt]wdua.east) -- (\b);
    \foreach \i in {1,2,3}{
      \foreach \s in {-6,0,6}{
        \draw[wp] ([yshift=\s pt]ial\i) -- ([yshift=\s pt]iarc\i.west);
        \draw[wp] ([yshift=\s pt]itl\i) -- ([yshift=\s pt]itru\i.west);
        \draw[wp] ([yshift=\s pt]itru\i.east) -- ([yshift=\s pt]itr\i);}
      \draw[wp] ([yshift=-6pt]iarc\i.east) -- ([yshift=-6pt]iar\i);
      \draw[wp] ([yshift=6pt]iarc\i.east) -- ([yshift=6pt]iar\i);}
    \foreach \a/\b in {iml1/imer,iml2/imeb}
      \foreach \s in {-6,0,6}
        \draw[wp] ([yshift=\s pt]\a) -- ([yshift=\s pt]\b.west);
    \draw[wp] (imer.east) -- (imr1);
    \draw[wp] (imeb.east) -- (imr2);
  \end{pgfonlayer}
\end{tikzpicture}
\end{document}
